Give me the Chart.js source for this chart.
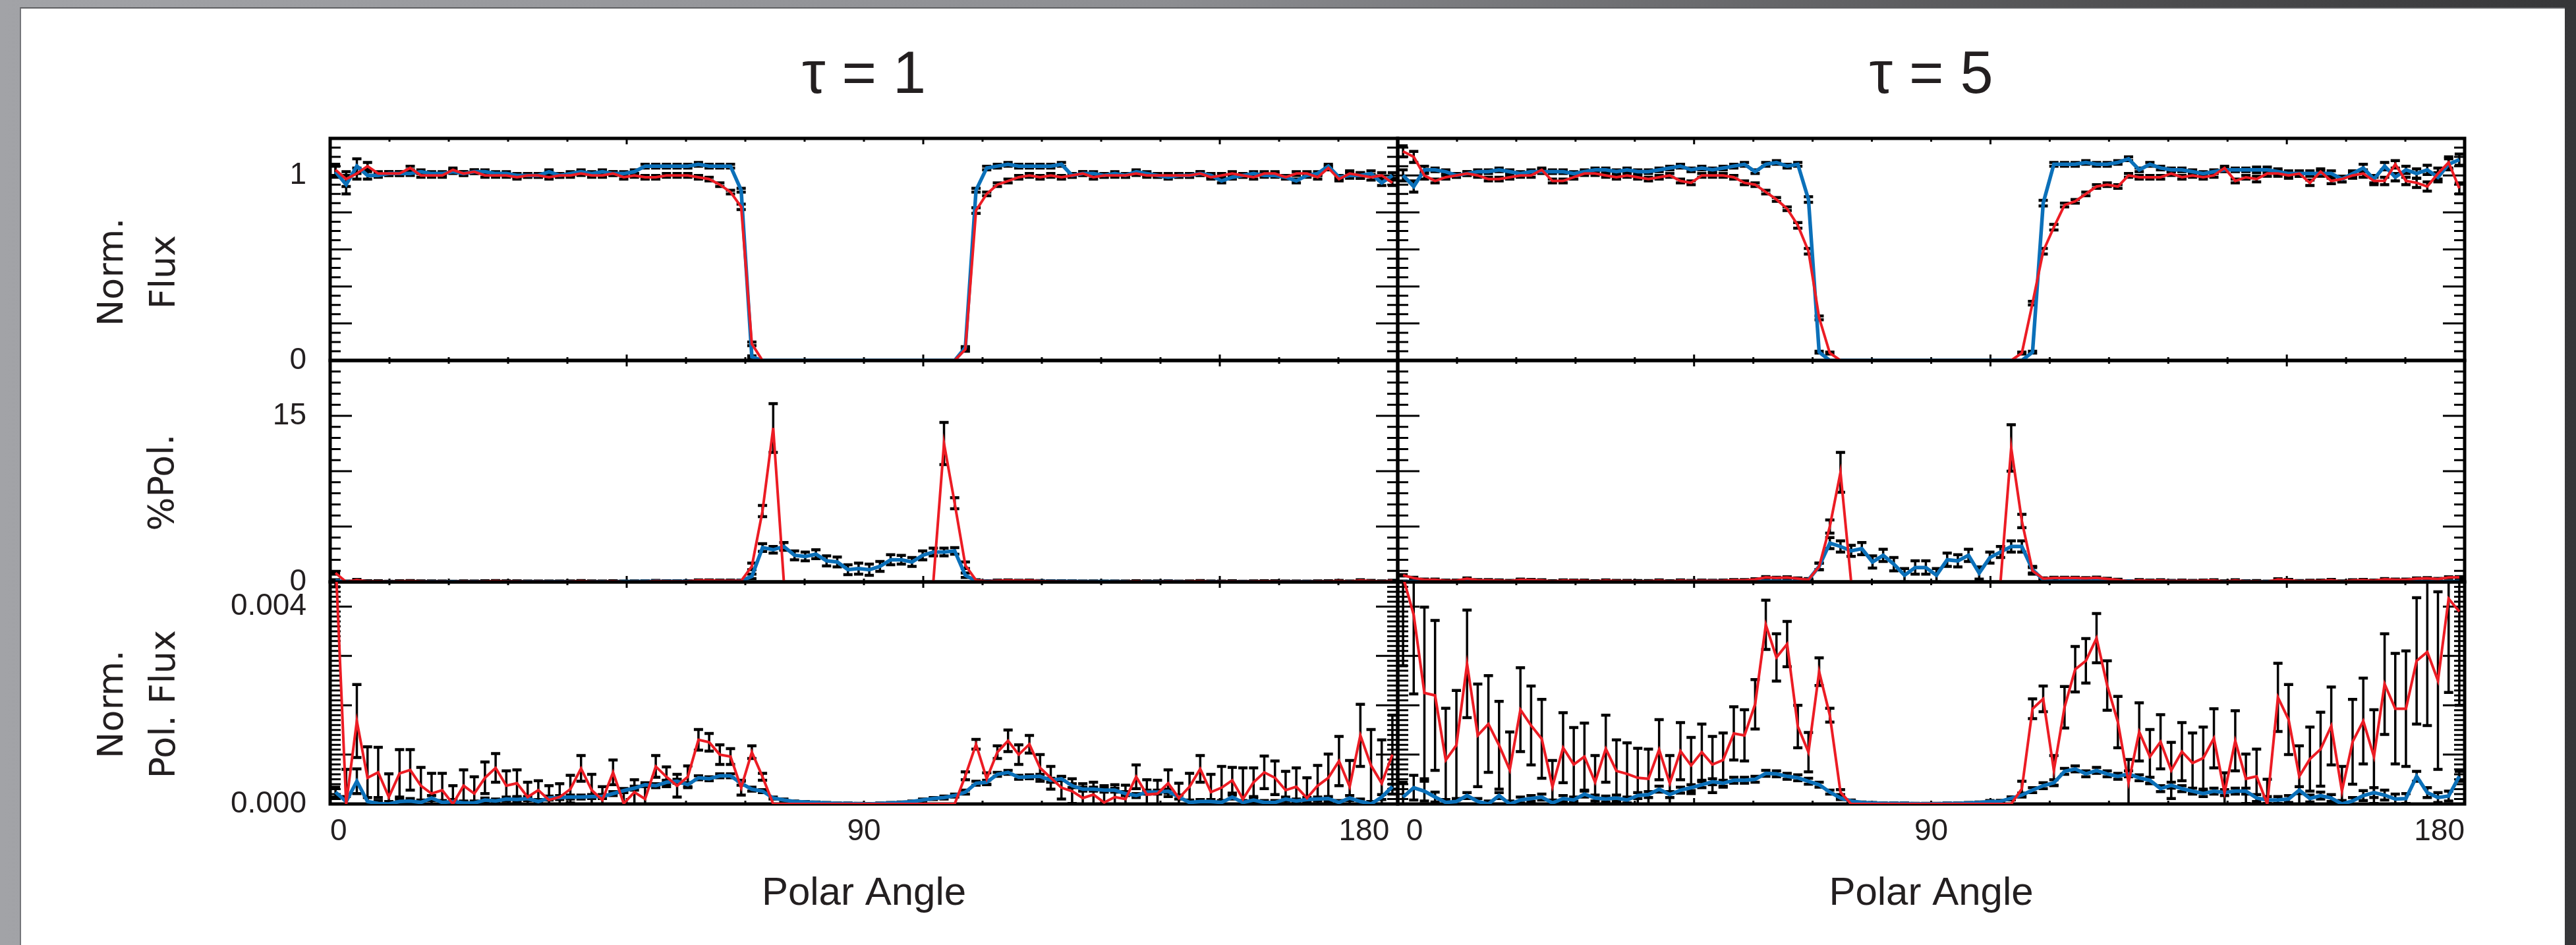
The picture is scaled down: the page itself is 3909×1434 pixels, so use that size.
<!DOCTYPE html>
<html>
<head>
<meta charset="utf-8">
<title>Polar angle panels</title>
<script src="https://cdn.jsdelivr.net/npm/chart.js@4.4.1/dist/chart.umd.min.js"></script>
<style>
  html, body { margin: 0; padding: 0; }
  body {
    position: relative; width: 3909px; height: 1434px; overflow: hidden;
    background: linear-gradient(90deg, #a2a3a7 0%, #8d8e92 45%, #4b4b4d 85%, #363638 100%);
  }
  #sheet {
    position: absolute; left: 30px; top: 11px; width: 3862px; height: 1423px;
    background: #fff; border-left: 2px solid #747579; border-top: 2px solid #5f6063; box-sizing: border-box;
  }
  canvas { position: absolute; }
</style>
</head>
<body>
<div id="sheet"></div>
<script>
// bin centres of the polar angle (100 bins over 0..180 deg)
var angles = [];
for (var b = 0; b < 100; b++) angles.push(Math.round((0.9 + 1.8 * b) * 10) / 10);

var angleTickLabels = [0, 90, 180];
var fluxTickLabels = [0, 1];
var polTickLabels = [0, 15];
var polFluxTickLabels = [0, 4];   // pol. flux is kept in units of 1e-3

// ---- tau = 1 ----
var fluxBlue1 = [
  1.02,0.95,1.05,1.00,1.00,1.01,1.01,1.01,1.02,1.01,
  1.01,1.02,1.01,1.02,1.02,1.01,1.01,1.00,1.00,1.00,
  1.02,1.00,1.01,1.02,1.01,1.02,1.01,1.01,1.02,1.05,
  1.05,1.05,1.05,1.05,1.06,1.05,1.05,1.05,0.92,0.02,
  0,0,0,0,0,0,0,0,0,0,
  0,0,0,0,0,0,0,0,0,0.07,
  0.92,1.04,1.05,1.06,1.05,1.05,1.05,1.05,1.06,1.00,
  1.01,1.01,1.00,1.01,1.00,1.02,1.01,1.00,0.99,1.00,
  1.00,1.01,1.00,0.97,0.99,1.00,1.01,1.00,1.00,0.99,
  0.97,1.00,1.01,1.05,0.99,1.00,1.00,1.01,0.96,1.00];
var fluxRed1 = [
  1.03,0.98,1.01,1.05,1.01,1.01,1.01,1.04,1.00,1.00,
  1.00,1.03,1.01,1.02,1.00,1.00,1.00,0.99,1.00,1.00,
  0.99,1.00,1.00,1.01,1.00,1.00,1.01,0.99,1.00,0.99,
  0.99,1.00,1.00,1.00,0.99,0.98,0.95,0.91,0.83,0.09,
  0,0,0,0,0,0,0,0,0,0,
  0,0,0,0,0,0,0,0,0,0.06,
  0.81,0.90,0.95,0.97,0.99,1.00,0.99,1.00,0.99,1.00,
  1.01,0.99,1.00,1.00,1.00,1.01,1.00,1.00,1.00,1.00,
  1.00,1.01,0.99,1.00,1.01,1.00,0.99,1.01,1.01,0.99,
  1.01,1.01,0.99,1.04,0.98,1.01,1.00,0.99,1.00,0.96];
var fluxBlueErr1 = [
  0.03,0.05,0.04,0.02,0.01,0.01,0.01,0.01,0.01,0.01,
  0.01,0.01,0.01,0.01,0.01,0.01,0.01,0.01,0.01,0.01,
  0.01,0.01,0.01,0.01,0.01,0.01,0.01,0.01,0.01,0.01,
  0.01,0.01,0.01,0.01,0.01,0.01,0.01,0.01,0.01,0.005,
  0,0,0,0,0,0,0,0,0,0,
  0,0,0,0,0,0,0,0,0,0.005,
  0.01,0.01,0.01,0.01,0.01,0.01,0.01,0.01,0.01,0.01,
  0.01,0.01,0.01,0.01,0.01,0.01,0.01,0.01,0.01,0.01,
  0.01,0.01,0.01,0.01,0.01,0.01,0.01,0.01,0.01,0.01,
  0.01,0.01,0.01,0.01,0.01,0.015,0.015,0.015,0.015,0.015];
var fluxRedErr1 = [
  0.03,0.04,0.03,0.02,0.01,0.01,0.01,0.01,0.01,0.01,
  0.01,0.01,0.01,0.01,0.01,0.01,0.01,0.01,0.01,0.01,
  0.01,0.01,0.01,0.01,0.01,0.01,0.01,0.01,0.01,0.01,
  0.01,0.01,0.01,0.01,0.01,0.01,0.01,0.01,0.015,0.01,
  0,0,0,0,0,0,0,0,0,0,
  0,0,0,0,0,0,0,0,0,0.01,
  0.015,0.01,0.01,0.01,0.01,0.01,0.01,0.01,0.01,0.01,
  0.01,0.01,0.01,0.01,0.01,0.01,0.01,0.01,0.01,0.01,
  0.01,0.01,0.01,0.01,0.01,0.01,0.01,0.01,0.01,0.01,
  0.01,0.01,0.01,0.01,0.01,0.015,0.015,0.015,0.015,0.015];

var polBlue1 = [
  0.10,0.02,0.05,0.02,0.01,0.00,0.01,0.01,0.01,0.02,
  0.01,0.01,0.01,0.01,0.01,0.01,0.02,0.02,0.02,0.01,
  0.02,0.02,0.02,0.02,0.02,0.02,0.02,0.03,0.03,0.04,
  0.04,0.04,0.04,0.04,0.05,0.05,0.05,0.05,0.10,0.50,
  3.1,2.9,3.2,2.4,2.3,2.5,1.9,1.8,1.1,1.2,
  1.1,1.4,2.0,2.0,1.8,2.4,2.7,2.7,2.8,0.6,
  0.10,0.04,0.06,0.06,0.05,0.05,0.05,0.05,0.05,0.04,
  0.03,0.03,0.03,0.03,0.02,0.02,0.02,0.02,0.03,0.01,
  0.00,0.01,0.01,0.00,0.01,0.00,0.01,0.00,0.00,0.01,
  0.01,0.01,0.01,0.01,0.00,0.01,0.01,0.00,0.01,0.03];
var polRed1 = [
  0.80,0.00,0.17,0.05,0.06,0.01,0.06,0.07,0.04,0.02,
  0.03,0.00,0.04,0.02,0.05,0.07,0.04,0.04,0.01,0.03,
  0.01,0.01,0.03,0.07,0.03,0.01,0.06,0.00,0.02,0.01,
  0.08,0.06,0.04,0.06,0.13,0.13,0.11,0.11,0.10,1.4,
  6.4,13.9,0,0,0,0,0,0,0,0,
  0,0,0,0,0,0,0,12.5,7.1,1.5,
  0.15,0.06,0.11,0.13,0.10,0.12,0.07,0.05,0.03,0.03,
  0.01,0.02,0.00,0.01,0.01,0.06,0.02,0.02,0.04,0.01,
  0.04,0.07,0.02,0.03,0.05,0.01,0.04,0.06,0.05,0.03,
  0.03,0.01,0.04,0.05,0.09,0.03,0.14,0.08,0.04,0.10];
var polBlueErr1 = [
  0.10,0.05,0.05,0.05,0.05,0.05,0.05,0.05,0.05,0.05,
  0.05,0.05,0.05,0.05,0.05,0.05,0.05,0.05,0.05,0.05,
  0.05,0.05,0.05,0.05,0.05,0.05,0.05,0.05,0.05,0.05,
  0.05,0.05,0.05,0.05,0.05,0.05,0.05,0.05,0.05,0.20,
  0.35,0.30,0.35,0.40,0.40,0.40,0.45,0.45,0.45,0.50,
  0.50,0.45,0.45,0.40,0.40,0.40,0.35,0.35,0.30,0.20,
  0.05,0.05,0.05,0.05,0.05,0.05,0.05,0.05,0.05,0.05,
  0.05,0.05,0.05,0.05,0.05,0.05,0.05,0.05,0.05,0.05,
  0.05,0.05,0.05,0.05,0.05,0.05,0.05,0.05,0.05,0.05,
  0.05,0.05,0.05,0.05,0.05,0.05,0.05,0.05,0.05,0.05];
var polRedErr1 = [
  0.10,0.05,0.05,0.05,0.05,0.05,0.05,0.05,0.05,0.05,
  0.05,0.05,0.05,0.05,0.05,0.05,0.05,0.05,0.05,0.05,
  0.05,0.05,0.05,0.05,0.05,0.05,0.05,0.05,0.05,0.05,
  0.05,0.05,0.05,0.05,0.05,0.05,0.05,0.05,0.05,0.30,
  0.50,2.20,0,0,0,0,0,0,0,0,
  0,0,0,0,0,0,0,1.90,0.50,0.30,
  0.05,0.05,0.05,0.05,0.05,0.05,0.05,0.05,0.05,0.05,
  0.05,0.05,0.05,0.05,0.05,0.05,0.05,0.05,0.05,0.05,
  0.05,0.05,0.05,0.05,0.05,0.05,0.05,0.05,0.05,0.05,
  0.05,0.05,0.05,0.05,0.05,0.05,0.05,0.05,0.05,0.05];

var polFluxBlue1 = [
  0.24,0.05,0.46,0.05,0.01,0.00,0.05,0.06,0.03,0.12,
  0.03,0.05,0.02,0.02,0.08,0.06,0.10,0.09,0.11,0.05,
  0.12,0.13,0.14,0.14,0.15,0.15,0.21,0.27,0.32,0.39,
  0.37,0.44,0.46,0.39,0.53,0.51,0.57,0.57,0.42,0.30,
  0.26,0.12,0.08,0.05,0.04,0.03,0.02,0.01,0.01,0.005,
  0.00,0.01,0.02,0.03,0.05,0.08,0.11,0.13,0.17,0.24,
  0.42,0.44,0.60,0.64,0.54,0.55,0.56,0.48,0.51,0.37,
  0.30,0.30,0.28,0.28,0.21,0.17,0.24,0.24,0.26,0.14,
  0.03,0.05,0.05,0.03,0.14,0.03,0.08,0.03,0.03,0.10,
  0.06,0.09,0.10,0.11,0.03,0.12,0.05,0.00,0.14,0.35];
var polFluxRed1 = [
  5.0,0.00,1.68,0.53,0.64,0.14,0.62,0.69,0.37,0.21,
  0.28,0.00,0.37,0.21,0.53,0.73,0.37,0.42,0.14,0.28,
  0.08,0.14,0.30,0.72,0.28,0.08,0.64,0.01,0.24,0.10,
  0.76,0.55,0.37,0.55,1.30,1.25,1.00,0.96,0.33,1.05,
  0.55,0,0,0,0,0,0,0,0,0,
  0,0,0,0,0,0,0,0,0,0.57,
  1.21,0.51,1.05,1.28,1.00,1.21,0.73,0.53,0.33,0.26,
  0.12,0.19,0.03,0.14,0.10,0.55,0.19,0.21,0.42,0.12,
  0.35,0.71,0.24,0.33,0.48,0.10,0.44,0.64,0.53,0.28,
  0.35,0.12,0.37,0.53,0.87,0.35,1.39,0.78,0.42,1.00];
var polFluxBlueErr1 = [
  0.10,0.10,0.25,0.08,0.06,0.05,0.05,0.05,0.05,0.05,
  0.04,0.04,0.04,0.04,0.04,0.04,0.04,0.04,0.04,0.04,
  0.04,0.04,0.04,0.04,0.04,0.04,0.04,0.04,0.04,0.04,
  0.04,0.04,0.04,0.04,0.04,0.04,0.04,0.04,0.04,0.04,
  0.03,0.02,0.02,0.01,0.01,0.01,0.01,0.01,0.01,0.01,
  0.01,0.01,0.01,0.01,0.01,0.02,0.02,0.03,0.03,0.04,
  0.04,0.04,0.04,0.04,0.04,0.04,0.04,0.04,0.04,0.04,
  0.04,0.04,0.04,0.04,0.04,0.04,0.04,0.04,0.04,0.04,
  0.04,0.04,0.04,0.04,0.04,0.04,0.04,0.04,0.04,0.04,
  0.04,0.04,0.04,0.04,0.04,0.05,0.05,0.05,0.05,0.05];
var polFluxRedErr1 = [
  0.60,0.70,0.74,0.63,0.51,0.47,0.48,0.41,0.37,0.41,
  0.34,0.37,0.32,0.34,0.32,0.29,0.30,0.27,0.30,0.19,
  0.29,0.27,0.28,0.26,0.32,0.27,0.25,0.30,0.25,0.29,
  0.22,0.20,0.23,0.22,0.21,0.18,0.20,0.16,0.15,0.13,
  0.07,0,0,0,0,0,0,0,0,0,
  0,0,0,0,0,0,0,0,0,0.08,
  0.10,0.12,0.13,0.22,0.20,0.18,0.27,0.23,0.23,0.25,
  0.29,0.25,0.34,0.25,0.28,0.24,0.30,0.27,0.27,0.30,
  0.27,0.27,0.36,0.43,0.26,0.63,0.29,0.33,0.34,0.38,
  0.38,0.41,0.41,0.48,0.50,0.53,0.63,0.73,0.88,0.80];

// ---- tau = 5 ----
var fluxBlue5 = [
  1.00,0.94,1.03,1.03,1.02,1.00,1.01,1.02,1.02,1.03,
  1.02,1.01,1.02,1.02,1.02,1.02,1.01,1.02,1.03,1.03,
  1.02,1.03,1.02,1.02,1.03,1.04,1.05,1.03,1.04,1.03,
  1.04,1.05,1.06,1.02,1.06,1.07,1.05,1.06,0.87,0.045,
  0,0,0,0,0,0,0,0,0,0,
  0,0,0,0,0,0,0,0,0,0.045,
  0.85,1.06,1.06,1.06,1.07,1.06,1.06,1.07,1.09,1.03,
  1.06,1.04,1.03,1.03,1.02,1.01,1.02,1.03,1.03,1.03,
  1.03,1.03,1.02,1.01,1.01,1.01,1.01,1.01,0.98,1.01,
  1.04,0.98,1.05,0.99,1.03,1.01,1.03,0.99,1.06,1.085];
var fluxRed5 = [
  1.13,1.10,1.00,0.97,0.99,1.00,1.01,1.00,0.98,0.98,
  0.99,1.00,1.00,1.03,0.97,0.97,0.99,1.01,1.01,1.00,
  0.99,1.00,0.99,0.98,0.99,1.00,0.97,0.96,1.00,1.00,
  1.00,0.99,0.96,0.95,0.91,0.87,0.82,0.73,0.59,0.23,
  0.04,0,0,0,0,0,0,0,0,0,
  0,0,0,0,0,0,0,0,0.04,0.31,
  0.59,0.72,0.84,0.86,0.90,0.94,0.95,0.94,1.00,0.99,
  0.99,0.99,1.01,0.99,1.00,0.99,1.00,1.04,0.97,0.99,
  0.98,1.01,1.01,1.00,1.01,0.96,1.02,0.97,0.98,1.00,
  1.01,0.97,0.97,1.06,0.97,0.96,0.94,1.01,1.07,0.93];
var fluxBlueErr5 = [
  0.03,0.03,0.02,0.01,0.01,0.01,0.01,0.01,0.01,0.01,
  0.01,0.01,0.01,0.01,0.01,0.01,0.01,0.01,0.01,0.01,
  0.01,0.01,0.01,0.01,0.01,0.01,0.01,0.01,0.01,0.01,
  0.01,0.01,0.01,0.01,0.01,0.01,0.01,0.01,0.015,0.005,
  0,0,0,0,0,0,0,0,0,0,
  0,0,0,0,0,0,0,0,0,0.005,
  0.015,0.01,0.01,0.01,0.01,0.01,0.01,0.01,0.01,0.01,
  0.01,0.01,0.01,0.01,0.01,0.01,0.01,0.01,0.01,0.01,
  0.015,0.015,0.015,0.015,0.015,0.015,0.015,0.015,0.015,0.015,
  0.02,0.02,0.02,0.02,0.02,0.025,0.025,0.025,0.03,0.03];
var fluxRedErr5 = [
  0.03,0.03,0.02,0.01,0.01,0.01,0.01,0.01,0.01,0.01,
  0.01,0.01,0.01,0.01,0.01,0.01,0.01,0.01,0.01,0.01,
  0.01,0.01,0.01,0.01,0.01,0.01,0.01,0.01,0.01,0.01,
  0.01,0.01,0.01,0.01,0.01,0.01,0.01,0.015,0.015,0.01,
  0.005,0,0,0,0,0,0,0,0,0,
  0,0,0,0,0,0,0,0,0.005,0.01,
  0.015,0.015,0.01,0.01,0.01,0.01,0.01,0.01,0.01,0.01,
  0.01,0.01,0.01,0.01,0.01,0.01,0.01,0.01,0.01,0.01,
  0.015,0.015,0.015,0.015,0.015,0.015,0.015,0.015,0.015,0.015,
  0.02,0.02,0.02,0.02,0.02,0.025,0.025,0.03,0.03,0.03];

var polBlue5 = [
  0.02,0.04,0.03,0.01,0.00,0.01,0.02,0.01,0.00,0.02,
  0.00,0.01,0.01,0.01,0.00,0.01,0.01,0.02,0.01,0.01,
  0.01,0.01,0.02,0.02,0.03,0.02,0.03,0.03,0.04,0.04,
  0.04,0.05,0.05,0.05,0.06,0.06,0.05,0.05,0.20,1.4,
  3.5,3.2,2.8,3.0,1.8,2.4,1.6,0.6,1.3,1.3,
  0.6,2.0,1.9,2.4,0.8,2.2,2.7,3.2,3.2,1.1,
  0.20,0.05,0.07,0.07,0.06,0.07,0.06,0.05,0.06,0.05,
  0.05,0.03,0.04,0.03,0.03,0.02,0.03,0.02,0.03,0.03,
  0.01,0.01,0.01,0.01,0.03,0.01,0.02,0.01,0.00,0.01,
  0.02,0.02,0.02,0.01,0.01,0.05,0.02,0.01,0.02,0.05];
var polRed5 = [
  0.60,0.35,0.20,0.20,0.10,0.10,0.30,0.15,0.15,0.12,
  0.07,0.20,0.17,0.14,0.05,0.12,0.10,0.10,0.05,0.12,
  0.07,0.07,0.06,0.06,0.12,0.05,0.12,0.08,0.11,0.09,
  0.10,0.15,0.15,0.22,0.42,0.36,0.40,0.30,0.20,1.4,
  5.0,9.9,0,0,0,0,0,0,0,0,
  0,0,0,0,0,0,0,12.1,5.5,1.0,
  0.30,0.35,0.35,0.35,0.33,0.37,0.27,0.18,0.05,0.15,
  0.10,0.13,0.07,0.11,0.08,0.10,0.13,0.03,0.13,0.05,
  0.06,0.00,0.22,0.17,0.06,0.09,0.11,0.16,0.03,0.13,
  0.17,0.10,0.24,0.20,0.20,0.30,0.32,0.25,0.40,0.42];
var polBlueErr5 = [
  0.05,0.05,0.05,0.05,0.05,0.05,0.05,0.05,0.05,0.05,
  0.05,0.05,0.05,0.05,0.05,0.05,0.05,0.05,0.05,0.05,
  0.05,0.05,0.05,0.05,0.05,0.05,0.05,0.05,0.05,0.05,
  0.05,0.05,0.05,0.05,0.05,0.05,0.05,0.05,0.10,0.30,
  0.50,0.50,0.50,0.55,0.55,0.55,0.60,0.60,0.60,0.60,
  0.60,0.60,0.55,0.55,0.55,0.50,0.50,0.50,0.50,0.30,
  0.10,0.05,0.05,0.05,0.05,0.05,0.05,0.05,0.05,0.05,
  0.05,0.05,0.05,0.05,0.05,0.05,0.05,0.05,0.05,0.05,
  0.05,0.05,0.05,0.05,0.05,0.05,0.05,0.05,0.05,0.05,
  0.05,0.05,0.05,0.05,0.05,0.05,0.05,0.05,0.05,0.05];
var polRedErr5 = [
  0.06,0.06,0.06,0.06,0.06,0.06,0.06,0.06,0.06,0.06,
  0.06,0.06,0.06,0.06,0.06,0.06,0.06,0.06,0.06,0.06,
  0.06,0.06,0.06,0.06,0.06,0.06,0.06,0.06,0.06,0.06,
  0.06,0.06,0.06,0.06,0.06,0.06,0.06,0.06,0.06,0.30,
  0.60,1.80,0,0,0,0,0,0,0,0,
  0,0,0,0,0,0,0,2.10,0.60,0.30,
  0.06,0.06,0.06,0.06,0.06,0.06,0.06,0.06,0.06,0.06,
  0.06,0.06,0.06,0.06,0.06,0.06,0.06,0.06,0.06,0.06,
  0.06,0.06,0.06,0.06,0.06,0.06,0.06,0.06,0.06,0.06,
  0.06,0.06,0.06,0.06,0.06,0.06,0.06,0.06,0.06,0.06];

var polFluxBlue5 = [
  0.14,0.33,0.26,0.14,0.03,0.05,0.17,0.05,0.00,0.17,
  0.00,0.08,0.11,0.14,0.02,0.11,0.08,0.20,0.12,0.10,
  0.12,0.08,0.17,0.19,0.30,0.19,0.28,0.33,0.39,0.45,
  0.42,0.48,0.48,0.50,0.62,0.61,0.56,0.53,0.46,0.39,
  0.24,0.12,0.06,0.03,0.02,0.01,0.01,0.01,0.005,0.005,
  0.005,0.01,0.01,0.02,0.03,0.05,0.055,0.115,0.18,0.28,
  0.37,0.43,0.66,0.71,0.61,0.68,0.61,0.56,0.61,0.53,
  0.48,0.31,0.38,0.31,0.26,0.21,0.26,0.23,0.26,0.26,
  0.12,0.08,0.08,0.10,0.28,0.11,0.17,0.12,0.00,0.06,
  0.17,0.23,0.18,0.10,0.11,0.56,0.23,0.13,0.16,0.56];
var polFluxRed5 = [
  4.6,3.83,2.25,2.20,0.89,1.19,2.84,1.39,1.62,1.19,
  0.69,1.91,1.59,1.32,0.35,1.14,0.80,0.96,0.44,1.12,
  0.67,0.61,0.53,0.51,1.10,0.42,1.07,0.78,1.05,0.80,
  0.89,1.43,1.39,2.02,3.63,2.97,3.24,1.57,1.05,2.68,
  1.80,0.24,0,0,0,0,0,0,0,0,
  0,0,0,0,0,0,0,0,0.31,1.93,
  2.13,0.68,1.96,2.73,2.90,3.36,2.40,1.66,0.43,1.46,
  0.96,1.26,0.68,1.06,0.83,0.93,1.33,0.23,1.28,0.51,
  0.56,0.00,2.16,1.71,0.56,0.91,1.11,1.58,0.26,1.26,
  1.68,0.96,2.43,1.93,1.93,2.90,3.08,2.50,4.16,3.90];
var polFluxBlueErr5 = [
  0.30,0.25,0.20,0.10,0.06,0.06,0.06,0.06,0.06,0.06,
  0.06,0.06,0.06,0.06,0.06,0.06,0.06,0.06,0.06,0.06,
  0.06,0.06,0.06,0.06,0.06,0.06,0.06,0.06,0.06,0.06,
  0.06,0.06,0.06,0.06,0.06,0.06,0.06,0.06,0.06,0.05,
  0.04,0.03,0.02,0.01,0.01,0.01,0.01,0.01,0.01,0.01,
  0.01,0.01,0.01,0.01,0.01,0.02,0.02,0.03,0.04,0.05,
  0.06,0.06,0.06,0.06,0.06,0.06,0.06,0.06,0.06,0.06,
  0.06,0.06,0.06,0.06,0.06,0.06,0.06,0.06,0.06,0.06,
  0.07,0.07,0.07,0.07,0.07,0.07,0.07,0.07,0.07,0.07,
  0.10,0.10,0.10,0.10,0.10,0.10,0.10,0.10,0.10,0.10];
var polFluxRedErr5 = [
  1.80,1.60,1.74,1.52,1.05,1.11,1.09,1.04,0.98,0.89,
  0.77,0.85,0.80,0.80,0.53,0.71,0.75,0.68,0.54,0.68,
  0.63,0.63,0.60,0.60,0.61,0.56,0.58,0.57,0.57,0.57,
  0.55,0.54,0.52,0.50,0.50,0.48,0.46,0.43,0.40,0.28,
  0.14,0.05,0,0,0,0,0,0,0,0,
  0,0,0,0,0,0,0,0,0.15,0.20,
  0.26,0.30,0.42,0.46,0.45,0.50,0.50,0.52,0.47,0.59,
  0.55,0.55,0.57,0.59,0.61,0.63,0.60,0.40,0.61,0.50,
  0.55,0.50,0.69,0.71,0.62,0.65,0.75,0.79,0.50,0.86,
  0.87,0.95,1.02,1.12,1.17,1.28,1.49,1.80,1.90,1.90];

// ---- layout & style ----
var INK = '#231f20';
var BLUE = '#0b70b9';
var RED = '#ec1c24';
var TICK_FONT = "'Liberation Sans', Arial, sans-serif";
var LABEL_FONT = "'DejaVu Sans', Verdana, sans-serif";

var colLeft = [501, 2121];
var colRight = [2121, 3740];
var rowTop = [210, 547, 883];
var rowBottom = [547, 883, 1220];
var PAD = 70;          // room for the half-height of the end tick labels
var XAXIS_H = 190;

var fluxAxis = { min: 0, max: 1.2, minor: 0.05, majorEvery: 4, labels: fluxTickLabels,
                 title: ['Norm.    ', 'Flux    '], titlePad: 133, thousandths: false };
var polAxis = { min: 0, max: 20, minor: 1, majorEvery: 5, labels: polTickLabels,
                title: '%Pol.  ', titlePad: 210, thousandths: false };
var polFluxAxis = { min: 0, max: 4.5, minor: 0.1, majorEvery: 10, labels: polFluxTickLabels,
                    title: ['Norm.  ', 'Pol. Flux  '], titlePad: 133, thousandths: true };

var panels = [
  { col: 0, row: 0, axis: fluxAxis, heading: 'τ = 1', blue: fluxBlue1, red: fluxRed1, blueErr: fluxBlueErr1, redErr: fluxRedErr1 },
  { col: 0, row: 1, axis: polAxis, blue: polBlue1, red: polRed1, blueErr: polBlueErr1, redErr: polRedErr1 },
  { col: 0, row: 2, axis: polFluxAxis, blue: polFluxBlue1, red: polFluxRed1, blueErr: polFluxBlueErr1, redErr: polFluxRedErr1 },
  { col: 1, row: 0, axis: fluxAxis, heading: 'τ = 5', blue: fluxBlue5, red: fluxRed5, blueErr: fluxBlueErr5, redErr: fluxRedErr5 },
  { col: 1, row: 1, axis: polAxis, blue: polBlue5, red: polRed5, blueErr: polBlueErr5, redErr: polRedErr5 },
  { col: 1, row: 2, axis: polFluxAxis, blue: polFluxBlue5, red: polFluxRed5, blueErr: polFluxBlueErr5, redErr: polFluxRedErr5 }
];

function toPoints(vals) {
  return vals.map(function (v, i) { return { x: angles[i], y: v }; });
}

// box, inward tick marks and error bars, drawn under the lines
var panelFrame = {
  id: 'panelFrame',
  beforeDatasetsDraw: function (chart) {
    var o = chart.options.plugins.panelFrame;
    var ctx = chart.ctx, a = chart.chartArea;
    var xs = chart.scales.x, ys = chart.scales.y;
    var k;
    ctx.save();
    ctx.strokeStyle = '#000';
    ctx.lineWidth = 3;
    ctx.beginPath();
    for (k = 0; k <= 18; k++) {
      var px = xs.getPixelForValue(k * 10);
      var tx = (k % 5 === 0) ? 9 : 5;
      ctx.moveTo(px, a.top); ctx.lineTo(px, a.top + tx);
      ctx.moveTo(px, a.bottom); ctx.lineTo(px, a.bottom - tx);
    }
    var n = Math.round((o.max - o.min) / o.minor);
    for (k = 0; k <= n; k++) {
      var py = ys.getPixelForValue(o.min + k * o.minor);
      var ty = (k % o.majorEvery === 0) ? 33 : 16;
      ctx.moveTo(a.left, py); ctx.lineTo(a.left + ty, py);
      ctx.moveTo(a.right, py); ctx.lineTo(a.right - ty, py);
    }
    ctx.stroke();
    ctx.lineWidth = 5;
    ctx.strokeRect(a.left, a.top, a.right - a.left, a.bottom - a.top);

    ctx.beginPath();
    ctx.rect(a.left, a.top, a.right - a.left, a.bottom - a.top);
    ctx.clip();
    chart.data.datasets.forEach(function (ds) {
      if (!ds.errors) return;
      ds.data.forEach(function (p, i) {
        var e = ds.errors[i];
        if (!e) return;
        var x = xs.getPixelForValue(p.x);
        var y1 = ys.getPixelForValue(p.y + e);
        var y2 = ys.getPixelForValue(p.y - e);
        ctx.lineWidth = 3.5;
        ctx.beginPath(); ctx.moveTo(x, y1); ctx.lineTo(x, y2); ctx.stroke();
        ctx.lineWidth = 4.5;
        ctx.beginPath();
        ctx.moveTo(x - 7, y1); ctx.lineTo(x + 7, y1);
        ctx.moveTo(x - 7, y2); ctx.lineTo(x + 7, y2);
        ctx.stroke();
      });
    });
    ctx.restore();
  }
};

panels.forEach(function (p) {
  var c = p.col, r = p.row, ax = p.axis;
  var left = c === 0 ? 0 : colLeft[1] - PAD;
  var top = r === 0 ? 0 : rowTop[r] - PAD;
  var width = colRight[c] + PAD - left;
  var height = (r === 2 ? rowBottom[2] + XAXIS_H : rowBottom[r] + PAD) - top;

  var cv = document.createElement('canvas');
  cv.width = width; cv.height = height;
  cv.style.left = left + 'px'; cv.style.top = top + 'px';
  cv.style.width = width + 'px'; cv.style.height = height + 'px';
  document.body.appendChild(cv);

  new Chart(cv, {
    type: 'line',
    data: {
      datasets: [
        { label: 'red', data: toPoints(p.red), errors: p.redErr, borderColor: RED, borderWidth: 4 },
        { label: 'blue', data: toPoints(p.blue), errors: p.blueErr, borderColor: BLUE, borderWidth: 5.5 }
      ]
    },
    options: {
      responsive: false,
      animation: false,
      devicePixelRatio: 1,
      layout: { padding: { left: c === 0 ? 0 : PAD, right: PAD, top: r === 0 ? 0 : PAD, bottom: r === 2 ? 0 : PAD } },
      elements: { point: { radius: 0 }, line: { tension: 0, fill: false } },
      plugins: {
        legend: { display: false },
        tooltip: { enabled: false },
        title: {
          display: r === 0, text: p.heading || '', fullSize: false, color: INK,
          font: { family: TICK_FONT, size: 90, weight: 'normal', lineHeight: 1.2 },
          padding: { top: 62, bottom: 40 }
        },
        panelFrame: { min: ax.min, max: ax.max, minor: ax.minor, majorEvery: ax.majorEvery }
      },
      scales: {
        x: {
          type: 'linear', min: 0, max: 180, display: r === 2,
          grid: { display: false, drawTicks: false }, border: { display: false },
          afterBuildTicks: function (s) { s.ticks = angleTickLabels.map(function (v) { return { value: v }; }); },
          afterFit: function (s) { if (r === 2) s.height = XAXIS_H; },
          ticks: {
            padding: 15, align: 'inner', maxRotation: 0, autoSkip: false, color: INK,
            font: { family: TICK_FONT, size: 46 },
            // keep a small gap between "180" and "0" where the two columns meet
            callback: function (v) {
              if (c === 0 && v === 180) return '180 ';
              if (c === 1 && v === 0) return ' 0';
              return String(v);
            }
          },
          title: { display: true, text: 'Polar Angle', color: INK,
                   font: { family: TICK_FONT, size: 60 }, padding: { top: 0, bottom: 18 } }
        },
        y: {
          type: 'linear', min: ax.min, max: ax.max, display: c === 0,
          grid: { display: false, drawTicks: false }, border: { display: false },
          afterBuildTicks: function (s) { s.ticks = ax.labels.map(function (v) { return { value: v }; }); },
          afterFit: function (s) { if (c === 0) s.width = colLeft[0]; },
          ticks: {
            padding: 36, color: INK, font: { family: TICK_FONT, size: 46 },
            callback: function (v) { return ax.thousandths ? (v / 1000).toFixed(3) : String(v); }
          },
          title: { display: true, text: ax.title, color: INK,
                   font: { family: LABEL_FONT, size: 54, lineHeight: 1.46 },
                   padding: { top: ax.titlePad, bottom: 0 } }
        }
      }
    },
    plugins: [panelFrame]
  });
});
</script>
</body>
</html>
